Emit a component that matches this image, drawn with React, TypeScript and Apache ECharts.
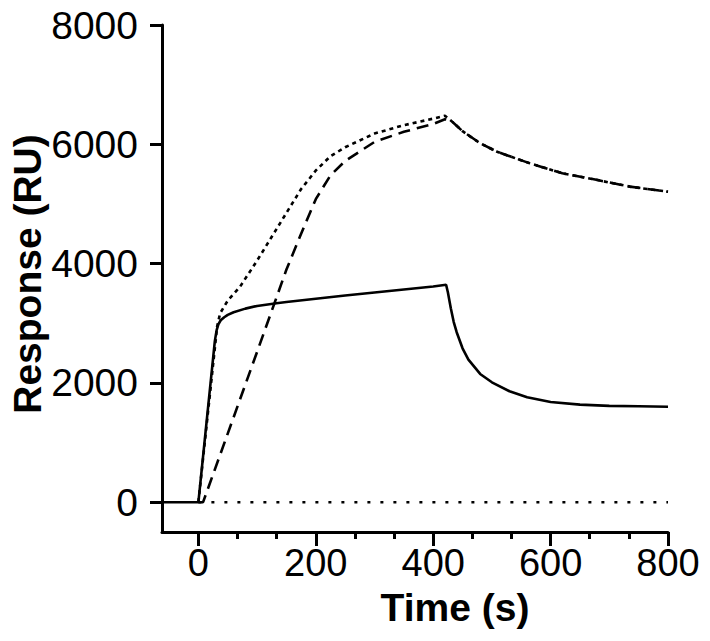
import React, { useEffect, useRef } from "react";
import * as echarts from "echarts";

// Time (s) and Response (RU) pairs
const solidTimes = [-62, 0, 28, 31, 34, 38, 44, 50, 60, 80, 100, 133, 150, 200, 250, 300, 350, 400, 422, 425, 430, 435, 440, 450, 460, 480, 500, 530, 560, 600, 650, 700, 750, 800];
const solidValues = [0, 0, 2700, 2880, 2980, 3050, 3100, 3140, 3185, 3245, 3290, 3334, 3355, 3410, 3465, 3515, 3565, 3615, 3645, 3520, 3250, 3020, 2850, 2580, 2390, 2150, 2010, 1860, 1760, 1680, 1635, 1615, 1608, 1600];

const dottedTimes = [0, 32, 37, 50, 71, 100, 125, 150, 175, 200, 225, 250, 300, 350, 400, 420, 430, 450, 480, 510, 565, 620, 680, 735, 800];
const dottedValues = [0, 2950, 3167, 3380, 3613, 4050, 4450, 4850, 5250, 5560, 5800, 5950, 6180, 6320, 6430, 6480, 6400, 6220, 6017, 5870, 5680, 5515, 5400, 5290, 5205];

const dashedTimes = [0, 8, 50, 100, 150, 175, 200, 225, 250, 300, 350, 400, 420, 430, 450, 480, 510, 565, 620, 680, 735, 800];
const dashedValues = [0, 0, 1150, 2520, 3900, 4500, 5080, 5480, 5720, 6040, 6210, 6340, 6420, 6400, 6220, 6017, 5870, 5680, 5515, 5400, 5290, 5205];

const baselineTimes = [0, 800];
const baselineValues = [0, 0];

const xMajorTicks = [0, 200, 400, 600, 800];
const xMinorTicks = [66.667, 133.333, 266.667, 333.333, 466.667, 533.333, 666.667, 733.333];
const yMajorTicks = [0, 2000, 4000, 6000, 8000];

const pairs = (xs: number[], ys: number[]) => xs.map((x, i) => [x, ys[i]]);

export default function App() {
  const ref = useRef<HTMLDivElement>(null);
  useEffect(() => {
    if (!ref.current) return;
    const chart = echarts.init(ref.current, null, { renderer: "svg" });
    const font = "Liberation Sans, Arial, Helvetica, sans-serif";
    const plain = (v: number) => String(Math.round(v));
    const axisCommon = {
      min: -62,
      max: 800,
      type: "value" as const,
      splitLine: { show: false },
    };
    chart.setOption({
      animation: false,
      backgroundColor: "#ffffff",
      grid: { left: 162, top: 25, right: 42, bottom: 109, containLabel: false },
      xAxis: [
        {
          ...axisCommon,
          position: "bottom",
          axisLine: { show: true, onZero: false, lineStyle: { color: "#000", width: 3 } },
          axisTick: { show: true, customValues: xMajorTicks, length: 14, inside: false, lineStyle: { color: "#000", width: 3 } },
          axisLabel: { customValues: xMajorTicks, formatter: plain, color: "#000", fontSize: 38, fontFamily: font, margin: 12 },
        },
        {
          ...axisCommon,
          position: "bottom",
          axisLine: { show: false, onZero: false },
          axisTick: { show: true, customValues: xMinorTicks, length: 7, lineStyle: { color: "#000", width: 3 } },
          axisLabel: { show: false },
        },
      ],
      yAxis: {
        type: "value",
        min: -500,
        max: 8000,
        splitLine: { show: false },
        axisLine: { show: true, onZero: false, lineStyle: { color: "#000", width: 3 } },
        axisTick: { show: true, customValues: yMajorTicks, length: 12, lineStyle: { color: "#000", width: 3 } },
        axisLabel: { customValues: yMajorTicks, formatter: plain, color: "#000", fontSize: 39, fontFamily: font, margin: 24 },
      },
      graphic: [
        {
          type: "text",
          x: 455,
          y: 607,
          style: { text: "Time (s)", font: `bold 39px ${font}`, fill: "#000", textAlign: "center", textVerticalAlign: "middle" },
        },
        {
          type: "text",
          x: 27,
          y: 274,
          rotation: Math.PI / 2,
          style: { text: "Response (RU)", font: `bold 39px ${font}`, fill: "#000", textAlign: "center", textVerticalAlign: "middle" },
        },
      ],
      series: [
        {
          name: "baseline",
          type: "line",
          data: pairs(baselineTimes, baselineValues),
          showSymbol: false,
          lineStyle: { color: "#000", width: 2.5, type: [3, 10] },
        },
        {
          name: "dashed",
          type: "line",
          data: pairs(dashedTimes, dashedValues),
          showSymbol: false,
          lineStyle: { color: "#000", width: 2.6, type: [12, 7] },
        },
        {
          name: "dotted",
          type: "line",
          data: pairs(dottedTimes, dottedValues),
          showSymbol: false,
          lineStyle: { color: "#000", width: 2.6, type: [4, 4] },
        },
        {
          name: "solid",
          type: "line",
          data: pairs(solidTimes, solidValues),
          showSymbol: false,
          lineStyle: { color: "#000", width: 2.6, type: "solid" },
        },
      ],
    });
    return () => chart.dispose();
  }, []);
  return <div ref={ref} style={{ position: "fixed", left: 0, top: 0, width: 710, height: 641 }} />;
}
